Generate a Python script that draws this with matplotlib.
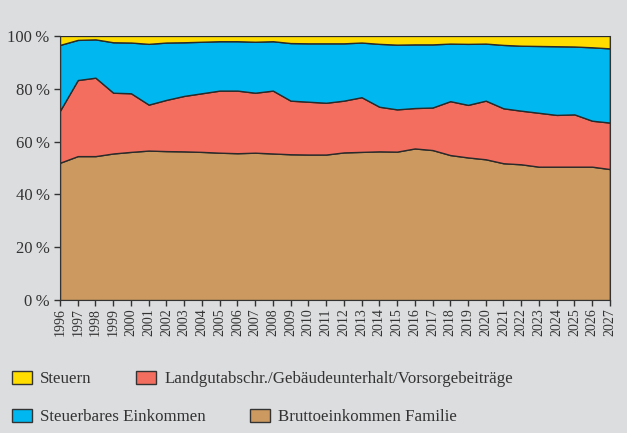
import matplotlib
matplotlib.use("Agg")
import matplotlib.pyplot as plt
import numpy as np
from matplotlib.patches import Patch

# cumulative shares (percent)
years = list(range(1996, 2028))
brutto_top = [52.0, 54.5, 54.5, 55.5, 56.1, 56.6, 56.4, 56.3, 56.1, 55.8, 55.6, 55.8,
              55.5, 55.2, 55.1, 55.1, 55.9, 56.1, 56.3, 56.2, 57.4, 56.8, 54.9, 54.0,
              53.3, 51.8, 51.4, 50.5, 50.5, 50.5, 50.5, 49.6]
landgut_top = [71.7, 83.3, 84.2, 78.5, 78.3, 74.0, 75.8, 77.3, 78.3, 79.3, 79.3, 78.5,
               79.3, 75.5, 75.1, 74.7, 75.5, 76.8, 73.2, 72.2, 72.7, 72.9, 75.3, 73.9,
               75.5, 72.6, 71.7, 70.9, 70.1, 70.3, 67.9, 67.2]
steuerbar_top = [96.6, 98.5, 98.7, 97.6, 97.5, 97.0, 97.5, 97.6, 97.8, 98.0, 98.0, 97.8,
                 98.0, 97.3, 97.2, 97.2, 97.2, 97.5, 97.0, 96.7, 96.8, 96.8, 97.1, 97.0,
                 97.1, 96.6, 96.3, 96.2, 96.1, 96.0, 95.7, 95.3]
total = [100.0] * len(years)

labels = ["Bruttoeinkommen Familie",
          "Landgutabschr./Gebäudeunterhalt/Vorsorgebeiträge",
          "Steuerbares Einkommen",
          "Steuern"]
colors = ["#CC9A60", "#F36E5F", "#00B8EF", "#FFDD00"]

plt.rcParams['font.family'] = ['Liberation Serif', 'DejaVu Serif']
bg = "#DCDDDF"

fig = plt.figure(figsize=(6.27, 4.33), dpi=100, facecolor=bg)
ax = fig.add_axes([0.0957, 0.307, 0.877, 0.610])
ax.set_facecolor(bg)

x = np.array(years)
layers = [np.zeros(len(years)), np.array(brutto_top), np.array(landgut_top),
          np.array(steuerbar_top), np.array(total)]
for i in range(4):
    ax.fill_between(x, layers[i], layers[i + 1], facecolor=colors[i],
                    edgecolor="#2a2a2a", linewidth=1.0)

ax.set_xlim(1996, 2027)
ax.set_ylim(0, 100)
ax.set_yticks(range(0, 101, 20))
ax.set_yticklabels([f"{v}\u2009%" for v in range(0, 101, 20)], fontsize=12, color="#333333")
ax.set_xticks(years)
ax.set_xticklabels([str(y) for y in years], rotation=90, fontsize=10, color="#333333")
ax.tick_params(axis='both', direction='out', length=4, width=1, color="#333333")
ax.tick_params(axis='x', pad=2)
ax.spines['top'].set_visible(False)
for side in ['right', 'left', 'bottom']:
    ax.spines[side].set_color("#333333")

# legend: each row laid out on its own, like the original
rows = [(3, 1, 379), (2, 0, 417)]
for a, b, ypix in rows:
    handles = [Patch(facecolor=colors[i], edgecolor="#333333", linewidth=1.0) for i in (a, b)]
    leg = fig.legend(handles, [labels[a], labels[b]], ncol=2, loc='center left',
                     bbox_to_anchor=(12 / 627, 1 - ypix / 433), frameon=False,
                     fontsize=12.2, borderpad=0, borderaxespad=0,
                     handlelength=1.2, handleheight=0.8, columnspacing=2.6,
                     handletextpad=0.47)
    for t in leg.get_texts():
        t.set_color("#333333")

fig.savefig("out.png", dpi=100, facecolor=bg)
